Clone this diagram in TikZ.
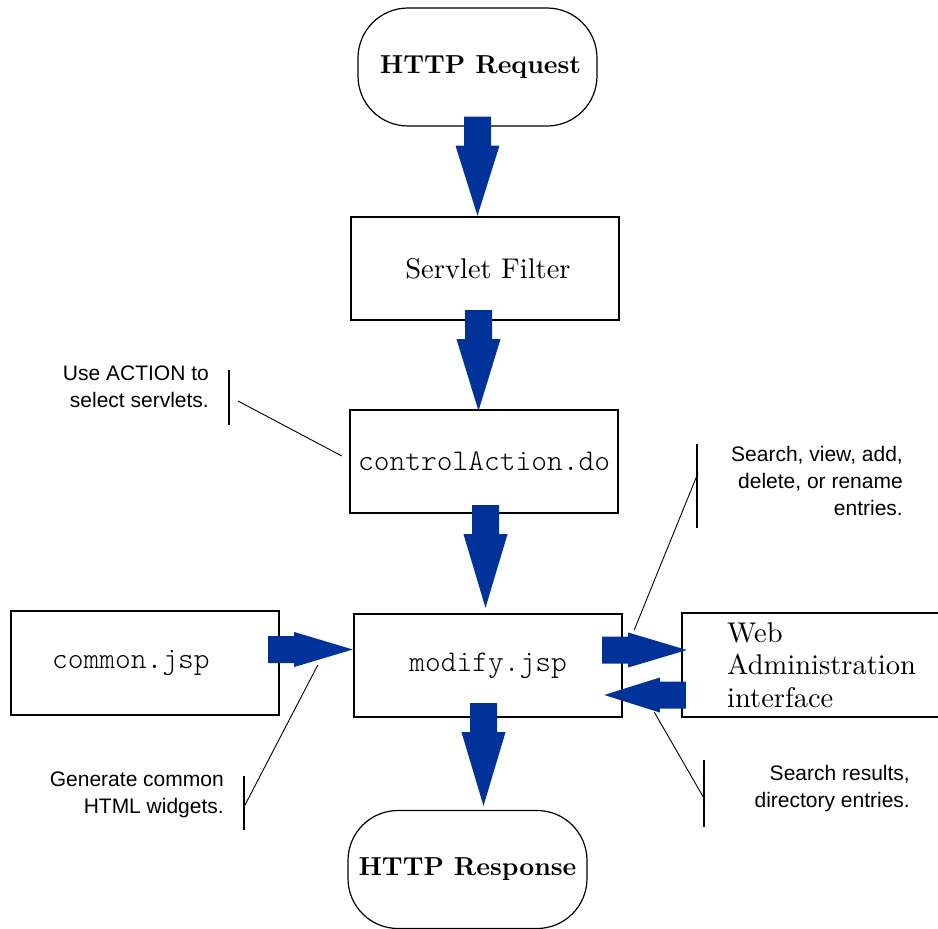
\documentclass[tikz,border=0pt]{standalone}
\usepackage{fontspec}
\setmainfont{lmroman10-regular.otf}[BoldFont=lmroman10-bold.otf]
\setsansfont{Liberation Sans}
\setmonofont{lmmonolt10-regular.otf}
\usetikzlibrary{calc}
\definecolor{flowblue}{RGB}{0,51,153}

% Block arrow from #1 (tail) to #2 (tip):
% #3 shaft length, #4 shaft half width, #5 head half width
\newcommand\flowarrow[5]{%
  \fill[flowblue] let \p1=(#1), \p2=(#2),
     \n1={veclen(\x2-\x1,\y2-\y1)},
     \n2={(\x2-\x1)/\n1}, \n3={(\y2-\y1)/\n1}
   in ({\x1+#4*\n3},{\y1-#4*\n2})
   -- ({\x1+#3*\n2+#4*\n3},{\y1+#3*\n3-#4*\n2})
   -- ({\x1+#3*\n2+#5*\n3},{\y1+#3*\n3-#5*\n2})
   -- (\p2)
   -- ({\x1+#3*\n2-#5*\n3},{\y1+#3*\n3+#5*\n2})
   -- ({\x1+#3*\n2-#4*\n3},{\y1+#3*\n3+#4*\n2})
   -- ({\x1-#4*\n3},{\y1+#4*\n2})
   -- cycle;}

\begin{document}
\begin{tikzpicture}[x=1pt,y=-1pt,
  box/.style={draw, line width=2.4pt, minimum width=268pt, minimum height=103pt, inner sep=0pt},
  term/.style={draw, line width=1.2pt, rounded corners=50pt, minimum width=239pt,
    minimum height=118pt, inner sep=0pt, font=\fontsize{26}{30}\selectfont\bfseries},
  serif/.style={font=\fontsize{28.5}{32.5}\selectfont},
  code/.style={font=\ttfamily\fontsize{30}{34}\selectfont},
  note/.style={font=\sffamily\fontsize{21}{27}\selectfont, align=right, anchor=east, inner sep=0pt},
  bar/.style={line width=1.8pt},
  leader/.style={line width=0.9pt},
]
\path[use as bounding box] (0,0) rectangle (938,929);
\clip (0,0) rectangle (938,929);

% main flow
\node[term] (req) at (477.5,67) {\hspace*{6pt}HTTP Request};
\node[box, serif] (filter) at (485,268.5) {\hspace*{6pt}\raisebox{-3pt}{Servlet Filter}};
\node[box, code] (ctrl) at (484,461.5) {controlAction.do};
\node[box, code] (modify) at (488,665.5) {modify.jsp};
\node[box, minimum height=104pt] (common) at (145,663) {};
\node[code, inner sep=0pt] (commontext) at (131,663) {common.jsp};
\node[box, minimum height=104pt] (web) at (816,665) {};
\node[serif, align=left, anchor=west, inner sep=0pt] (webtext) at (727,665)
  {Web\\Administration\\interface};
\node[term] (resp) at (467.5,869.5) {HTTP Response};

% arrow end points
\coordinate (a1s) at ($(req.south)+(0,-10)$);
\coordinate (a1e) at (a1s |- filter.north);
\coordinate (a2s) at ($(filter.south)+(-6.5,-11)$);
\coordinate (a2e) at ($(a2s |- ctrl.north)+(0,2)$);
\coordinate (a3s) at ($(ctrl.south)+(1.5,-9)$);
\coordinate (a3e) at ($(a3s |- modify.north)+(0,-5)$);
\coordinate (a4s) at ($(modify.south)+(-4.5,-15)$);
\coordinate (a4e) at ($(a4s |- resp.north)+(0,-4)$);
\coordinate (h1s) at ($(common.east)+(-12,-13.5)$);
\coordinate (h1e) at (h1s -| modify.west);
\coordinate (h2s) at ($(modify.east)+(-21,-15.5)$);
\coordinate (h2e) at ($(h2s -| web.west)+(6,0)$);
\coordinate (h3s) at ($(web.west)+(5,30)$);
\coordinate (h3e) at ($(h3s -| modify.east)+(-19,0)$);

\flowarrow{a1s}{a1e}{29pt}{13.5pt}{22pt}
\flowarrow{a2s}{a2e}{29pt}{13.5pt}{22pt}
\flowarrow{a3s}{a3e}{29pt}{13.5pt}{22pt}
\flowarrow{a4s}{a4e}{29pt}{13.5pt}{22pt}
\flowarrow{h1s}{h1e}{26pt}{13.5pt}{17.5pt}
\flowarrow{h2s}{h2e}{26pt}{13.5pt}{17.5pt}
\flowarrow{h3s}{h3e}{26pt}{13.5pt}{17.5pt}

% annotations
\node[note] (act) at (209,387) {Use ACTION to\\select servlets.};
\draw[bar] (229,370) -- (229,425);
\coordinate (actfrom) at (238,401);
\coordinate (actto) at ($(ctrl.west)+(-7,-5.5)$);
\draw[leader] (actfrom) -- (actto);

\node[note] (gen) at (224,795) {Generate common\\HTML widgets.};
\draw[bar] (244,776) -- (244,830);
\coordinate (genfrom) at (245,805);
\coordinate (gento) at ($(h1e)+(-35,15.5)$);
\draw[leader] (genfrom) -- (gento);

\node[note] (srch) at (903,481) {Search, view, add,\\delete, or rename\\entries.};
\draw[bar] (697,444) -- (697,528);
\coordinate (srchfrom) at (698,473);
\coordinate (srchto) at ($(modify.east)+(11,-35.5)$);
\draw[leader] (srchfrom) -- (srchto);

\node[note] (res) at (910,788.5) {Search results,\\directory entries.};
\draw[bar] (704,760) -- (704,827);
\coordinate (resfrom) at (705,800);
\coordinate (resto) at ($(h3e)+(50,17)$);
\draw[leader] (resfrom) -- (resto);
\end{tikzpicture}
\end{document}
